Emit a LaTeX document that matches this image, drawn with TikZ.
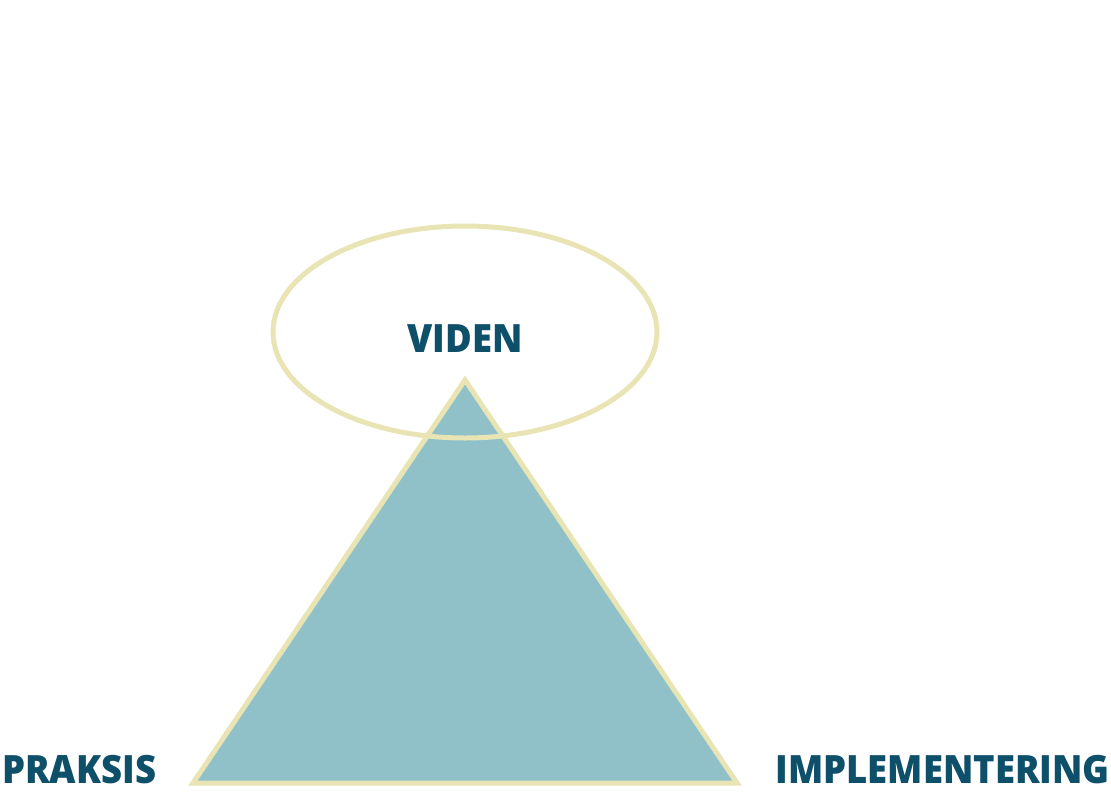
\documentclass[tikz,border=0pt]{standalone}
\usepackage{fontspec}
\usetikzlibrary{shapes.geometric}
\setmainfont{Open Sans}[UprightFont=* Bold, FakeStretch=0.935]
\definecolor{edgec}{HTML}{E8E4B4}
\definecolor{fillc}{HTML}{90C0C8}
\definecolor{textc}{HTML}{0E4F6A}
\tikzset{
  lbl/.style={font=\fontsize{39}{39}\selectfont\bfseries, text=textc, inner sep=0pt},
  outline/.style={draw=edgec, line width=5pt}
}
\begin{document}
\begin{tikzpicture}[x=1pt,y=-1pt]
\useasboundingbox (0,0) rectangle (1111,796);
\coordinate (apex) at (465,380);
\coordinate (bl) at (193,783);
\coordinate (br) at (737,783);
\draw[outline, fill=fillc, line join=miter] (apex) -- (br) -- (bl) -- cycle;
\node[outline, ellipse, minimum width=384pt, minimum height=212pt, inner sep=0pt, outer sep=0pt] (circ) at (465,332) {};
\node[lbl, anchor=base] (viden) at (465,352) {VIDEN};
\node[lbl, anchor=base west] (praksis) at (2,783) {PRAKSIS};
\node[lbl, anchor=base east] (impl) at (1110,783) {IMPLEMENTERING};
\end{tikzpicture}
\end{document}
